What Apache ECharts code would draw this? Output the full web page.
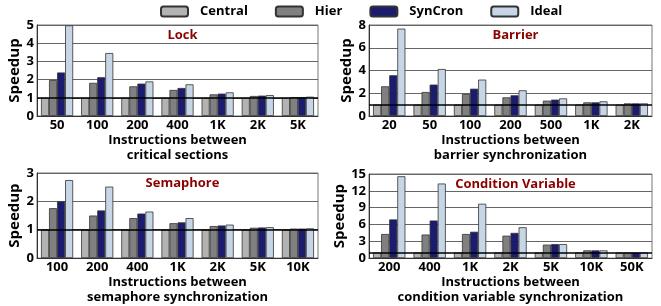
<!DOCTYPE html>
<html>
<head>
<meta charset="utf-8">
<script src="https://cdn.jsdelivr.net/npm/echarts@6/dist/echarts.min.js"></script>
<style>
  html, body { margin: 0; padding: 0; background: #fff; }
  #chart { width: 661px; height: 306px; }
</style>
</head>
<body>
<div id="chart"></div>
<script>
// series names
const seriesNames = ['Central', 'Hier', 'SynCron', 'Ideal'];

// Lock
const lockCats = ['50', '100', '200', '400', '1K', '2K', '5K'];
const lockCentral = [1, 1, 1, 1, 1, 1, 1];
const lockHier = [1.97, 1.82, 1.63, 1.43, 1.19, 1.10, 1.04];
const lockSyncron = [2.39, 2.13, 1.78, 1.54, 1.23, 1.12, 1.04];
const lockIdeal = [4.98, 3.46, 1.90, 1.74, 1.30, 1.15, 1.06];

// Barrier
const barrierCats = ['20', '50', '100', '200', '500', '1K', '2K'];
const barrierCentral = [1, 1, 1, 1, 1, 1, 1];
const barrierHier = [2.61, 2.11, 1.94, 1.64, 1.35, 1.20, 1.11];
const barrierSyncron = [3.58, 2.76, 2.40, 1.82, 1.44, 1.20, 1.11];
const barrierIdeal = [7.68, 4.13, 3.20, 2.26, 1.55, 1.29, 1.11];

// Semaphore
const semCats = ['100', '200', '400', '1K', '2K', '5K', '10K'];
const semCentral = [1, 1, 1, 1, 1, 1, 1];
const semHier = [1.76, 1.50, 1.41, 1.23, 1.13, 1.07, 1.04];
const semSyncron = [2.00, 1.68, 1.57, 1.26, 1.15, 1.08, 1.04];
const semIdeal = [2.75, 2.52, 1.64, 1.41, 1.18, 1.09, 1.05];

// Condition Variable
const cvCats = ['200', '400', '1K', '2K', '5K', '10K', '50K'];
const cvCentral = [1, 1, 1, 1, 1, 1, 1];
const cvHier = [4.3, 4.2, 4.3, 4.0, 2.4, 1.38, 1.0];
const cvSyncron = [6.9, 6.7, 4.7, 4.5, 2.5, 1.38, 1.0];
const cvIdeal = [14.6, 13.3, 9.7, 5.5, 2.5, 1.38, 1.0];

const colors = ['#b3b3b3', '#808080', '#1b1b6f', '#c6d6e6'];
const font = '"Open Sans", "DejaVu Sans", sans-serif';

const panels = [
  { title: 'Lock', cats: lockCats, data: [lockCentral, lockHier, lockSyncron, lockIdeal],
    max: 5, interval: 1, xname: 'Instructions between\ncritical sections',
    grid: { left: 37, top: 25, width: 281, height: 91 } },
  { title: 'Barrier', cats: barrierCats, data: [barrierCentral, barrierHier, barrierSyncron, barrierIdeal],
    max: 8, interval: 2, xname: 'Instructions between\nbarrier synchronization',
    grid: { left: 369, top: 25, width: 283, height: 91 } },
  { title: 'Semaphore', cats: semCats, data: [semCentral, semHier, semSyncron, semIdeal],
    max: 3, interval: 1, xname: 'Instructions between\nsemaphore synchronization',
    grid: { left: 37, top: 173, width: 281, height: 91 } },
  { title: 'Condition Variable', cats: cvCats, data: [cvCentral, cvHier, cvSyncron, cvIdeal],
    max: 15, interval: 3, xname: 'Instructions between\ncondition variable synchronization',
    grid: { left: 369, top: 174, width: 283, height: 90 } }
];

const grids = [], xAxes = [], yAxes = [], series = [], titles = [];

panels.forEach((p, i) => {
  grids.push(Object.assign({ show: true, borderColor: '#777', borderWidth: 1, backgroundColor: 'transparent' }, p.grid));
  titles.push({
    text: p.title,
    left: p.grid.left + p.grid.width / 2,
    top: p.grid.top - 1,
    textAlign: 'center',
    textStyle: { color: '#8b0000', fontFamily: font, fontWeight: 'bold', fontSize: 13 }
  });
  xAxes.push({
    type: 'category',
    gridIndex: i,
    data: p.cats,
    axisTick: { show: false },
    axisLine: { lineStyle: { color: '#333', width: 1 } },
    axisLabel: { color: '#000', fontFamily: font, fontWeight: 'bold', fontSize: 13, margin: 3 },
    name: p.xname,
    nameLocation: 'middle',
    nameGap: 13,
    nameTextStyle: { color: '#000', fontFamily: font, fontWeight: 'bold', fontSize: 13, lineHeight: 15 }
  });
  yAxes.push({
    type: 'value',
    gridIndex: i,
    min: 0,
    max: p.max,
    interval: p.interval,
    axisLine: { show: true, lineStyle: { color: '#333' } },
    axisTick: { show: false },
    splitLine: { lineStyle: { color: '#666', width: 1 } },
    axisLabel: { color: '#000', fontFamily: font, fontWeight: 'bold', fontSize: 13, margin: 3 },
    name: 'Speedup',
    nameLocation: 'middle',
    nameGap: i % 2 === 0 ? 11 : 13,
    nameTextStyle: { color: '#000', fontFamily: font, fontWeight: 'bold', fontSize: 15 }
  });
  p.data.forEach((vals, k) => {
    const s = {
      name: seriesNames[k],
      type: 'bar',
      xAxisIndex: i,
      yAxisIndex: i,
      data: vals,
      barGap: '0%',
      barCategoryGap: '20%',
      itemStyle: { color: colors[k], borderColor: '#333', borderWidth: 0.8 },
      emphasis: { disabled: true }
    };
    if (k === 3) {
      s.markLine = {
        silent: true,
        symbol: 'none',
        label: { show: false },
        lineStyle: { color: '#000', width: 1.5, type: 'solid' },
        data: [{ yAxis: 1 }]
      };
    }
    series.push(s);
  });
});

const chart = echarts.init(document.getElementById('chart'));
chart.setOption({
  animation: false,
  color: colors,
  title: titles,
  legend: {
    data: seriesNames,
    top: 5,
    left: 160,
    padding: 0,
    itemWidth: 27,
    itemHeight: 10,
    itemGap: 27,
    textStyle: { color: '#000', fontFamily: font, fontWeight: 'bold', fontSize: 13, padding: [0, 0, 0, 7] }
  },
  grid: grids,
  xAxis: xAxes,
  yAxis: yAxes,
  series: series
});
</script>
</body>
</html>
